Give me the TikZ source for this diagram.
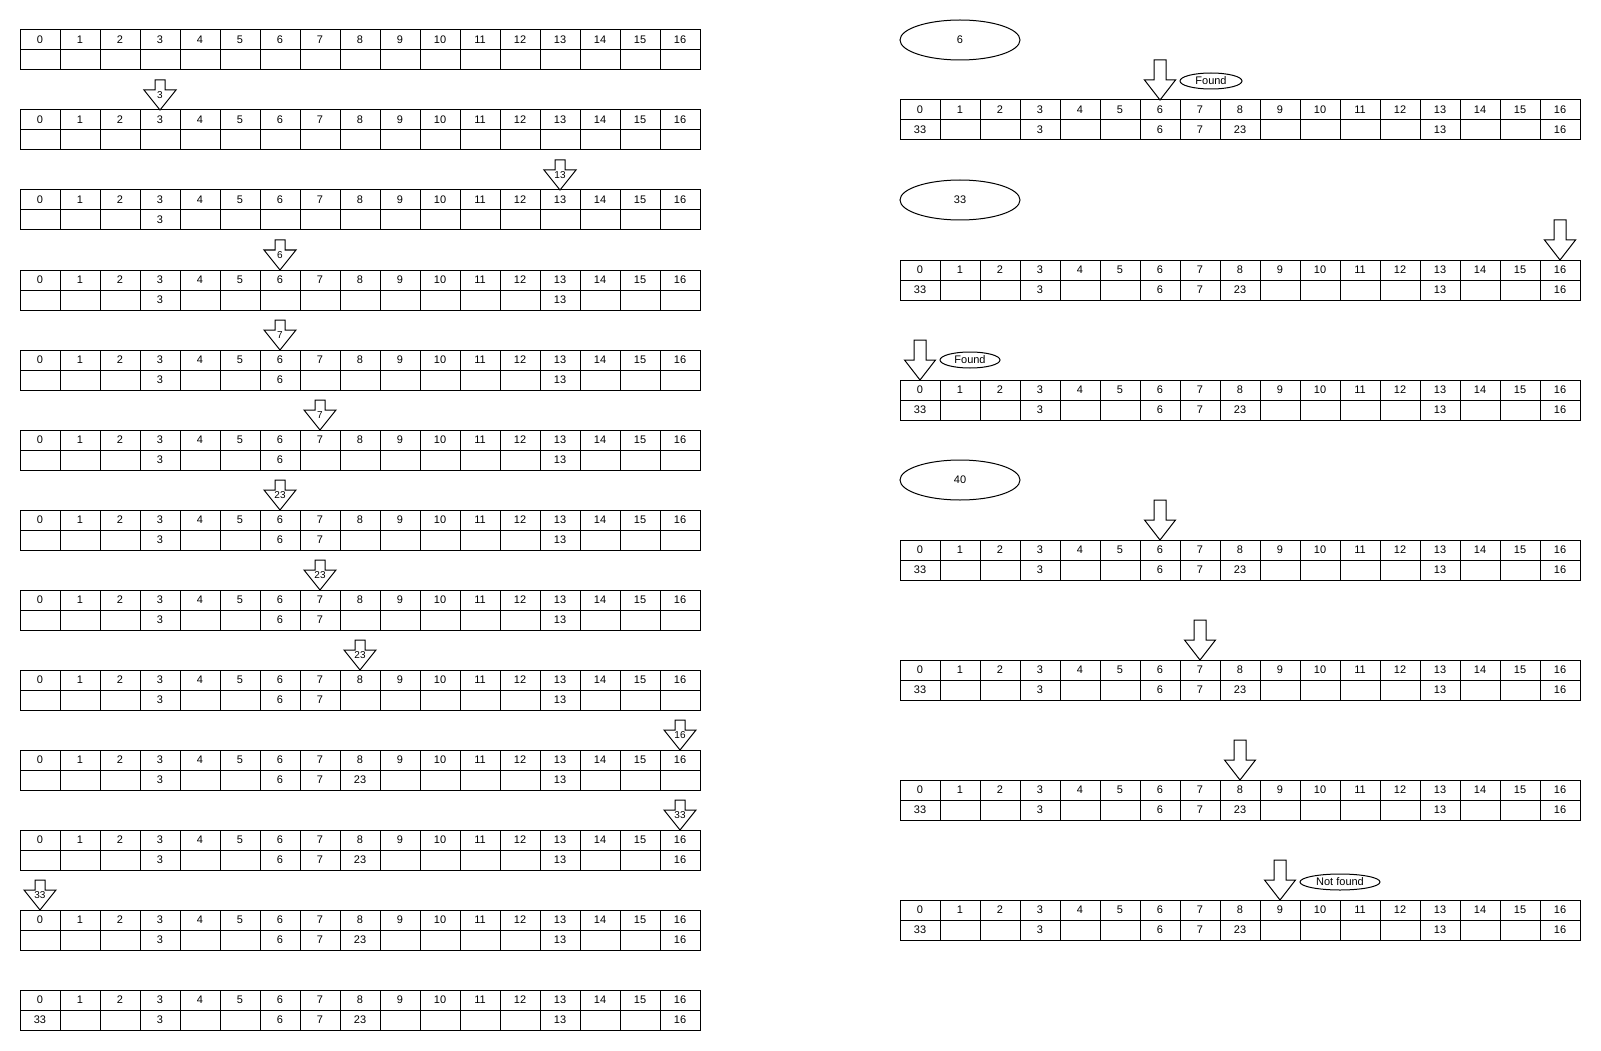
\documentclass[tikz,border=0pt]{standalone}
\usepackage{fontspec}
\setmainfont{Liberation Sans}
\usetikzlibrary{shapes.geometric}
\tikzset{
  every picture/.style={x=1pt,y=-1pt},
  cellbox/.style={draw, line width=1pt, minimum width=40pt, minimum height=20pt, inner sep=0pt, font=\fontsize{11}{12}\selectfont},
  valtxt/.style={inner sep=0pt, font=\fontsize{11}{12}\selectfont},
  arrowshape/.style={draw, line width=1pt, fill=white, line join=miter},
  arrowlbl/.style={inner sep=0.3pt, fill=white, font=\fontsize{10}{11}\selectfont},
  bigoval/.style={draw, ellipse, line width=1pt, minimum width=120pt, minimum height=40pt, inner sep=0pt, font=\fontsize{11}{12}\selectfont},
  smalloval/.style={draw, ellipse, line width=1pt, minimum height=16pt, inner sep=0pt, font=\fontsize{11}{12}\selectfont},
}
% #1 name, #2 left x, #3 top y
\newcommand\arraytable[3]{%
  \foreach \i in {0,...,16}{%
    \node[cellbox] (#1h\i) at ({#2+40*\i+20},{#3+10}) {\i};
    \node[cellbox] (#1v\i) at ({#2+40*\i+20},{#3+30}) {};
  }%
}
% #1 table name, #2 list col/value
\newcommand\tablevals[2]{%
  \foreach \c/\v in {#2}{\node[valtxt] (#1t\c) at (#1v\c) {\v};}%
}
% small labelled arrow: #1 name, #2 center x, #3 tip y, #4 label
\newcommand\smallarrow[4]{%
  \draw[arrowshape] ({#2-5},{#3-30}) -- ({#2+5},{#3-30}) -- ({#2+5},{#3-20}) -- ({#2+16},{#3-20}) -- (#2,#3) -- ({#2-16},{#3-20}) -- ({#2-5},{#3-20}) -- cycle;
  \node[arrowlbl] (#1) at (#2,{#3-15}) {#4};
}
% big arrow: #1 center x, #2 tip y
\newcommand\bigarrow[2]{%
  \draw[arrowshape] ({#1-6},{#2-40}) -- ({#1+6},{#2-40}) -- ({#1+6},{#2-20}) -- ({#1+15.5},{#2-20}) -- (#1,#2) -- ({#1-15.5},{#2-20}) -- ({#1-6},{#2-20}) -- cycle;
}
\begin{document}
\begin{tikzpicture}
\useasboundingbox[fill=white] (0,0) rectangle (1601,1051);
% ---------------- left column ----------------
\arraytable{A}{20}{30}
\arraytable{B}{20}{110}
\arraytable{C}{20}{190}
\tablevals{C}{3/3}
\arraytable{D}{20}{270}
\tablevals{D}{3/3,13/13}
\arraytable{E}{20}{350}
\tablevals{E}{3/3,6/6,13/13}
\arraytable{F}{20}{430}
\tablevals{F}{3/3,6/6,13/13}
\arraytable{G}{20}{510}
\tablevals{G}{3/3,6/6,7/7,13/13}
\arraytable{H}{20}{590}
\tablevals{H}{3/3,6/6,7/7,13/13}
\arraytable{I}{20}{670}
\tablevals{I}{3/3,6/6,7/7,13/13}
\arraytable{J}{20}{750}
\tablevals{J}{3/3,6/6,7/7,8/23,13/13}
\arraytable{K}{20}{830}
\tablevals{K}{3/3,6/6,7/7,8/23,13/13,16/16}
\arraytable{L}{20}{910}
\tablevals{L}{3/3,6/6,7/7,8/23,13/13,16/16}
\arraytable{M}{20}{990}
\tablevals{M}{0/33,3/3,6/6,7/7,8/23,13/13,16/16}
% small arrows (col center = 40 + 40*col)
\smallarrow{aB}{160}{110}{3}
\smallarrow{aC}{560}{190}{13}
\smallarrow{aD}{280}{270}{6}
\smallarrow{aE}{280}{350}{7}
\smallarrow{aF}{320}{430}{7}
\smallarrow{aG}{280}{510}{23}
\smallarrow{aH}{320}{590}{23}
\smallarrow{aI}{360}{670}{23}
\smallarrow{aJ}{680}{750}{16}
\smallarrow{aK}{680}{830}{33}
\smallarrow{aL}{40}{910}{33}
% ---------------- right column ----------------
\node[bigoval] (k6) at (960,40) {6};
\node[bigoval] (k33) at (960,200) {33};
\node[bigoval] (k40) at (960,480) {40};
\foreach \nm/\top in {P/100,Q/260,R/380,S/540,T/660,U/780,V/900}{%
  \arraytable{\nm}{900}{\top}
  \tablevals{\nm}{0/33,3/3,6/6,7/7,8/23,13/13,16/16}
}
% big arrows (col center = 920 + 40*col)
\bigarrow{1160}{100}
\bigarrow{1560}{260}
\bigarrow{920}{380}
\bigarrow{1160}{540}
\bigarrow{1200}{660}
\bigarrow{1240}{780}
\bigarrow{1280}{900}
\node[smalloval, minimum width=62pt] (f1) at (1211,81) {Found};
\node[smalloval, minimum width=60pt] (f2) at (970,360) {Found};
\node[smalloval, minimum width=80pt] (nf) at (1340,882) {Not found};
\end{tikzpicture}
\end{document}
